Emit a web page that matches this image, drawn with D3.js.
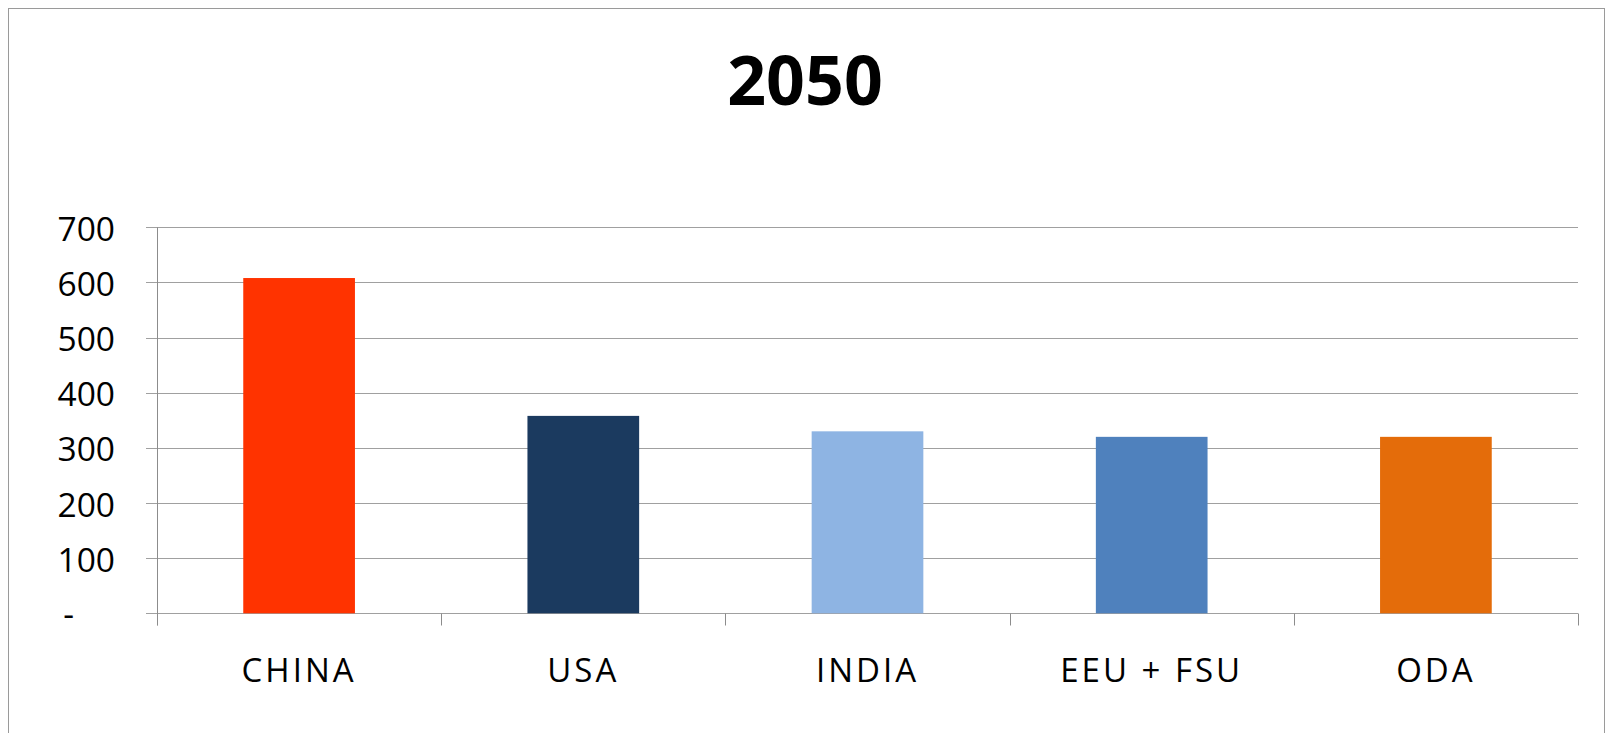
<!DOCTYPE html>
<html>
<head>
<meta charset="utf-8">
<script src="https://cdn.jsdelivr.net/npm/d3@7"></script>
<style>
  html, body { margin: 0; padding: 0; background: #ffffff; }
  svg { display: block; }
</style>
</head>
<body>
<svg id="chart" width="1610" height="733"></svg>
<script>
// ---- data ----
const title = "2050";
const categories = ["CHINA", "USA", "INDIA", "EEU + FSU", "ODA"];
const values = [608, 358, 330, 320, 320];
const barColors = ["#FF3300", "#1B3A5F", "#8EB4E3", "#4F81BD", "#E46C0A"];
const yTicks = [0, 100, 200, 300, 400, 500, 600, 700];

// ---- layout ----
const plot = { left: 157, right: 1578, top: 227.3, bottom: 613.3 };
const svg = d3.select("#chart");

// outer frame
svg.append("rect")
  .attr("x", 8.5).attr("y", 8.5)
  .attr("width", 1596).attr("height", 740)
  .attr("fill", "none").attr("stroke", "#9a9a9a").attr("stroke-width", 1);

// title
svg.append("text")
  .attr("x", 805).attr("y", 105)
  .attr("text-anchor", "middle")
  .attr("font-family", "'Open Sans', sans-serif")
  .attr("font-weight", "bold")
  .attr("font-size", 68)
  .attr("fill", "#000")
  .text(title);

// scales
const x = d3.scaleBand().domain(categories).range([plot.left, plot.right]).padding(0);
const y = d3.scaleLinear().domain([0, 700]).range([plot.bottom, plot.top]);
const barW = x.bandwidth() * 0.393;

// gridlines (with outward tick stubs)
svg.append("g").selectAll("line").data(yTicks).join("line")
  .attr("x1", plot.left - 11).attr("x2", plot.right)
  .attr("y1", d => Math.round(y(d)) + 0.5).attr("y2", d => Math.round(y(d)) + 0.5)
  .attr("stroke", "#a0a0a0").attr("stroke-width", 1);

// bars
svg.append("g").selectAll("rect").data(categories).join("rect")
  .attr("x", d => x(d) + (x.bandwidth() - barW) / 2)
  .attr("width", barW)
  .attr("y", (d, i) => y(values[i]))
  .attr("height", (d, i) => y(0) - y(values[i]))
  .attr("fill", (d, i) => barColors[i]);

// x axis
const xAxis = svg.append("g")
  .attr("transform", `translate(0,${Math.round(y(0)) + 0.5})`)
  .call(d3.axisBottom(x).tickSize(0).tickSizeOuter(0));
xAxis.select(".domain").remove();
// category boundary ticks
const bounds = categories.map(c => x(c)).concat([plot.right]);
xAxis.selectAll("line.bound").data(bounds).join("line")
  .attr("class", "bound")
  .attr("x1", d => Math.round(d) + 0.5).attr("x2", d => Math.round(d) + 0.5)
  .attr("y1", 0).attr("y2", 12)
  .attr("stroke", "#8c8c8c");
xAxis.selectAll(".tick text")
  .attr("y", 68.5).attr("dy", 0)
  .attr("font-family", "'Open Sans', sans-serif")
  .attr("font-size", 33)
  .attr("letter-spacing", "3px")
  .attr("fill", "#000");

// y axis line
svg.append("line")
  .attr("x1", plot.left + 0.5).attr("x2", plot.left + 0.5)
  .attr("y1", y(700)).attr("y2", y(0) + 12)
  .attr("stroke", "#8c8c8c");

// y labels
const yAxis = svg.append("g")
  .attr("transform", `translate(${plot.left},0)`)
  .call(d3.axisLeft(y).tickValues(yTicks).tickSize(0)
    .tickFormat(d => d === 0 ? "-" : d3.format("d")(d)));
yAxis.select(".domain").remove();
yAxis.selectAll(".tick text")
  .attr("x", -42).attr("dy", 0).attr("y", 13)
  .attr("font-family", "'Open Sans', sans-serif")
  .attr("font-size", 33.5)
  .attr("fill", "#000");
yAxis.selectAll(".tick text").filter(d => d === 0).attr("x", -83).attr("y", 12);
</script>
</body>
</html>
